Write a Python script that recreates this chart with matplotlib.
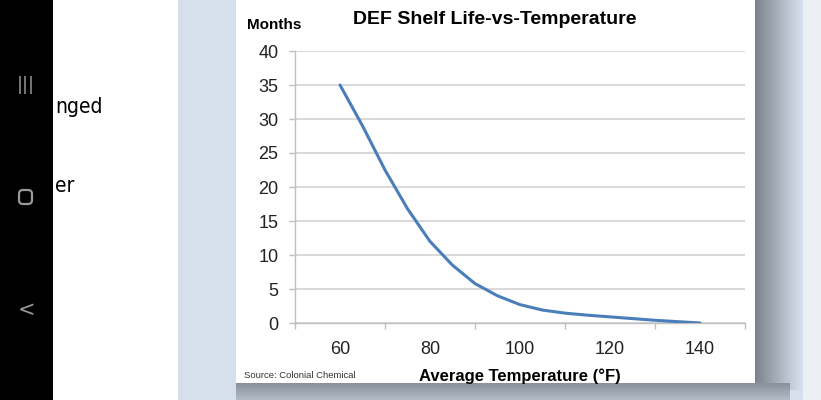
import matplotlib.pyplot as plt
import numpy as np
from matplotlib.patches import Rectangle, FancyBboxPatch
from matplotlib.colors import LinearSegmentedColormap

# values
temps = [60, 65, 70, 75, 80, 85, 90, 95, 100, 105, 110, 115, 120, 125, 130, 135, 140]
months = [35, 29, 22.5, 16.8, 12, 8.5, 5.8, 4.0, 2.7, 1.9, 1.45, 1.15, 0.9, 0.65, 0.4, 0.2, 0]
xtick_vals = [60, 80, 100, 120, 140]
ytick_vals = [0, 5, 10, 15, 20, 25, 30, 35, 40]

FONT = ['Liberation Sans', 'DejaVu Sans']

W, H = 821, 400
fig = plt.figure(figsize=(W / 100, H / 100), dpi=100)

# background in pixel coordinates (origin top-left)
bg = fig.add_axes([0, 0, 1, 1])
bg.set_xlim(0, W)
bg.set_ylim(H, 0)
bg.axis('off')

def rect(x0, y0, x1, y1, color, z=1):
    bg.add_patch(Rectangle((x0, y0), x1 - x0, y1 - y0, color=color, lw=0, zorder=z))

rect(0, 0, W, H, '#d6e0ed', 0)
rect(803, 0, W, H, '#eceff3', 1)
rect(53, 0, 178, H, '#ffffff', 1)

# shadow round the card
grad = np.linspace(0, 1, 64).reshape(1, -1)
bg.imshow(grad, extent=(755, 802, 390, 0), aspect='auto', zorder=2,
          cmap=LinearSegmentedColormap.from_list('sh', ['#7d838d', '#d6e0ed']))
bg.imshow(grad.T, extent=(236, 790, H, 383), aspect='auto', zorder=2,
          cmap=LinearSegmentedColormap.from_list('sh2', ['#8a909a', '#b3bcc8']))
rect(236, 0, 755, 383, '#ffffff', 3)

# phone navigation strip
rect(0, 0, 53, H, '#000000', 5)
bg.text(26, 85, '|||', color='#9a9a9a', fontsize=13, ha='center', va='center', zorder=6,
        family='DejaVu Sans')
bg.add_patch(FancyBboxPatch((19, 190), 13, 14, boxstyle='round,pad=0,rounding_size=4',
                            fill=False, ec='#9a9a9a', lw=1.6, zorder=6))
bg.text(26, 310, '<', color='#9a9a9a', fontsize=15, ha='center', va='center', zorder=6,
        family='DejaVu Sans')

bg.text(55, 107, 'nged', fontsize=15, family='DejaVu Sans', fontstretch='condensed',
        ha='left', va='center', zorder=4)
bg.text(55, 186, 'er', fontsize=15, family='DejaVu Sans', fontstretch='condensed',
        ha='left', va='center', zorder=4)

# chart texts
bg.text(495, 20, 'DEF Shelf Life-vs-Temperature', fontsize=14, fontweight='bold',
        family=FONT, ha='center', va='center', zorder=4)
bg.text(274, 25, 'Months', fontsize=11, fontweight='bold', family=FONT,
        ha='center', va='center', zorder=4)
bg.text(520, 376, 'Average Temperature (°F)', fontsize=12, fontweight='bold',
        family=FONT, ha='center', va='center', zorder=4)
bg.text(244, 375, 'Source: Colonial Chemical', fontsize=6.8, family=FONT,
        color='#333333', ha='left', va='center', zorder=4)

# the chart
ax = fig.add_axes([295 / W, (H - 323) / H, 450 / W, 272 / H])
ax.patch.set_visible(False)
ax.plot(temps, months, color='#4a7ebb', lw=2.2, solid_capstyle='round', zorder=3)
ax.set_xlim(50, 150)
ax.set_ylim(0, 40)
ax.set_xticks(xtick_vals)
ax.set_xticks([50, 70, 90, 110, 130, 150], minor=True)
ax.set_yticks(ytick_vals)
ax.tick_params(axis='x', which='major', length=0, pad=13)
ax.tick_params(axis='x', which='minor', length=4, width=1, color='#bfbfbf', direction='out')
ax.tick_params(axis='y', length=4, width=1, color='#bfbfbf', pad=8)
for lab in ax.get_xticklabels() + ax.get_yticklabels():
    lab.set_family(FONT)
    lab.set_fontsize(13)
    lab.set_color('#222222')
ax.yaxis.grid(True, color='#d9d9d9', lw=1.4)
ax.set_axisbelow(True)
for s in ['top', 'right']:
    ax.spines[s].set_visible(False)
for s in ['left', 'bottom']:
    ax.spines[s].set_color('#bfbfbf')
    ax.spines[s].set_linewidth(1)

fig.savefig('out.png', dpi=100)
